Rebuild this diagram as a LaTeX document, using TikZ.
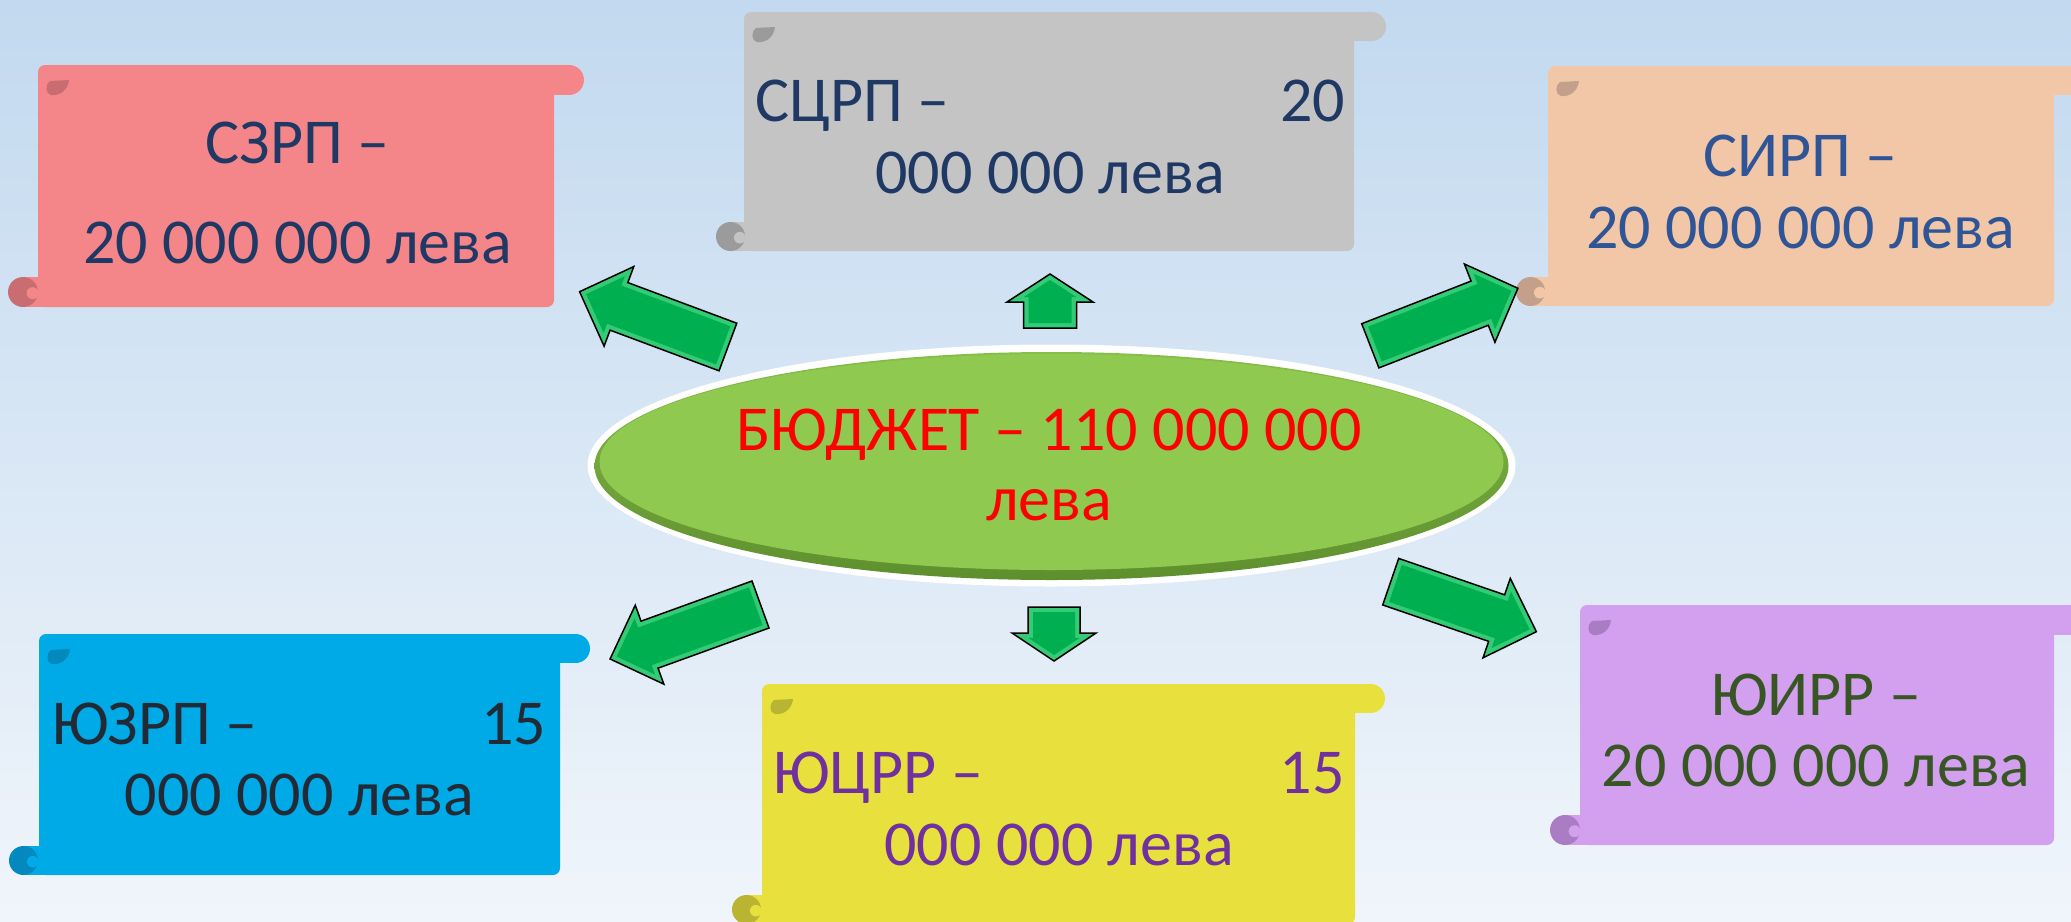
\documentclass[tikz,border=0pt]{standalone}
\usepackage{fontspec}
\setmainfont{Carlito}
\definecolor{bgtop}{HTML}{C2D9EF}
\definecolor{bgbot}{HTML}{F0F5FB}
\definecolor{pinkc}{HTML}{F4868A}\definecolor{pinkd}{HTML}{C96D72}
\definecolor{greyc}{HTML}{C4C4C4}\definecolor{greyd}{HTML}{9B9B9B}
\definecolor{peachc}{HTML}{F2C7A7}\definecolor{peachd}{HTML}{C4A08A}
\definecolor{purpc}{HTML}{D3A0EF}\definecolor{purpd}{HTML}{A97CC3}
\definecolor{bluec}{HTML}{00AAE7}\definecolor{blued}{HTML}{0489BE}
\definecolor{yellc}{HTML}{E8E13D}\definecolor{yelld}{HTML}{BAB433}
\definecolor{navy}{HTML}{1F3864}
\definecolor{midblue}{HTML}{2F5597}
\definecolor{olive}{HTML}{375623}
\definecolor{darkslate}{HTML}{222A35}
\definecolor{violet}{HTML}{7030A0}
\definecolor{ellgreen}{HTML}{8FC94F}
\definecolor{ellrimtop}{HTML}{86BE4A}
\definecolor{ellrimbot}{HTML}{5E8F2E}
\definecolor{arrgreen}{HTML}{00B050}
\definecolor{arrlight}{HTML}{34CA76}
\newcommand\twolines[3]{\vtop{\baselineskip=#1\lineskiplimit=-1000pt\lineskip=0pt\halign{\hfil##\hfil\cr#2\cr#3\cr}}}
\newcommand\scrollshape[9]{%
  \fill[#8, rounded corners=7pt] (#1,#2) rectangle (#3,#4);
  \fill[#8] (#1+7,#2) rectangle (#5-#7/2,#2+#7);
  \fill[#8] (#5-#7/2,#2+#7/2) circle[radius=#7/2];
  \fill[#8] (#6+#7/2,#4-#7) rectangle (#3-7,#4);
  \fill[#9] (#6+#7/2,#4-#7/2) circle[radius=#7/2];
  \fill[#8] (#6+#7/2+0.32*#7,#4-#7/2+0.04*#7) circle[radius=0.2*#7];
  \fill[#9] (#1+31,#2+15) .. controls (#1+30,#2+25) and (#1+22,#2+31) .. (#1+13,#2+30) .. controls (#1+7,#2+29) and (#1+7,#2+19) .. (#1+12,#2+16) -- cycle;
}
\newcommand\blockarrow[7]{%
  \begin{scope}[shift={(#1,#2)},rotate=#3]
    \pgfmathsetmacro\bL{#4}\pgfmathsetmacro\bh{#5}\pgfmathsetmacro\bH{#6}\pgfmathsetmacro\bs{#7}
    \pgfmathsetmacro\bT{\bL-5*sqrt(\bh*\bh+\bH*\bH)/\bH}
    \pgfmathsetmacro\bX{\bL-\bh+5}
    \pgfmathsetmacro\bY{(\bT-\bX)*\bH/\bh}
    \fill[arrlight] (0,-\bs) -- (\bL-\bh,-\bs) -- (\bL-\bh,-\bH) -- (\bL,0) -- (\bL-\bh,\bH) -- (\bL-\bh,\bs) -- (0,\bs) -- cycle;
    \fill[arrgreen] (5,-\bs+5) -- (\bX,-\bs+5) -- (\bX,-\bY) -- (\bT,0) -- (\bX,\bY) -- (\bX,\bs-5) -- (5,\bs-5) -- cycle;
    \draw[black, line width=1.5pt, line join=miter] (0,-\bs) -- (\bL-\bh,-\bs) -- (\bL-\bh,-\bH) -- (\bL,0) -- (\bL-\bh,\bH) -- (\bL-\bh,\bs) -- (0,\bs) -- cycle;
  \end{scope}}
\tikzset{
  txt/.style={anchor=base, inner sep=0pt, font=\fontsize{64}{70}\selectfont}
}
\begin{document}
\begin{tikzpicture}[x=1pt,y=-1pt]
\useasboundingbox (0,0) rectangle (2071,921);
\clip (0,0) rectangle (2071,921);
\shade[top color=bgtop,bottom color=bgbot] (0,0) rectangle (2071,921);

% scrolls
\scrollshape{38}{65}{554}{307}{584}{8}{30}{pinkc}{pinkd}
\scrollshape{744}{12}{1354}{251}{1386}{716}{29}{greyc}{greyd}
\scrollshape{1548}{66}{2054}{306}{2110}{1516}{29}{peachc}{peachd}
\scrollshape{1580}{605}{2054}{845}{2110}{1550}{30}{purpc}{purpd}
\scrollshape{39}{634}{560}{875}{590}{9}{29}{bluec}{blued}
\scrollshape{762}{684}{1355}{924}{1385}{732}{29}{yellc}{yelld}

% central ellipse
\fill[white] (1051.5,465.5) ellipse [x radius=464, y radius=121];
\shade[top color=ellrimtop, bottom color=ellrimbot] (1051.5,466) ellipse [x radius=457, y radius=114];
\fill[ellgreen] (1051.5,462) ellipse [x radius=452, y radius=108];

% arrows
\blockarrow{727.9}{347}{159.55}{158.3}{42}{42.5}{25.4}
\blockarrow{1370.3}{345.8}{21.3}{158.4}{41}{42}{23.7}
\blockarrow{760.5}{604.5}{199.9}{160}{42}{42}{25}
\blockarrow{1390.7}{581.7}{-18.95}{154}{42}{42}{24.6}
\blockarrow{1050}{328}{90}{54}{28}{43}{26.5}
\blockarrow{1054}{607}{-90}{54}{28}{42}{26}

% texts
\node[txt, text=navy] (szrp) at (297.5,163.3) {\twolines{100pt}{СЗРП –}{20 000 000 лева}};
\node[txt, text=navy] (scrp) at (1050,121.7) {\twolines{71.6pt}{\hbox to 590pt{СЦРП –\hfil 20}}{000 000 лева}};
\node[txt, text=midblue] (sirp) at (1800.5,176.7) {\twolines{71.6pt}{СИРП –}{20 000 000 лева}};
\node[txt, text=olive] (yuirr) at (1816,715) {\twolines{71.7pt}{ЮИРР –}{20 000 000 лева}};
\node[txt, text=darkslate] (yuzrp) at (299.3,744) {\twolines{71pt}{\hbox to 494pt{ЮЗРП –\hfil 15}}{000 000 лева}};
\node[txt, text=violet] (yucrr) at (1059,793.3) {\twolines{71.7pt}{\hbox to 571pt{ЮЦРР –\hfil 15}}{000 000 лева}};
\node[txt, text=red] (budget) at (1049,450) {\twolines{70pt}{БЮДЖЕТ – 110 000 000}{лева}};
\end{tikzpicture}
\end{document}
